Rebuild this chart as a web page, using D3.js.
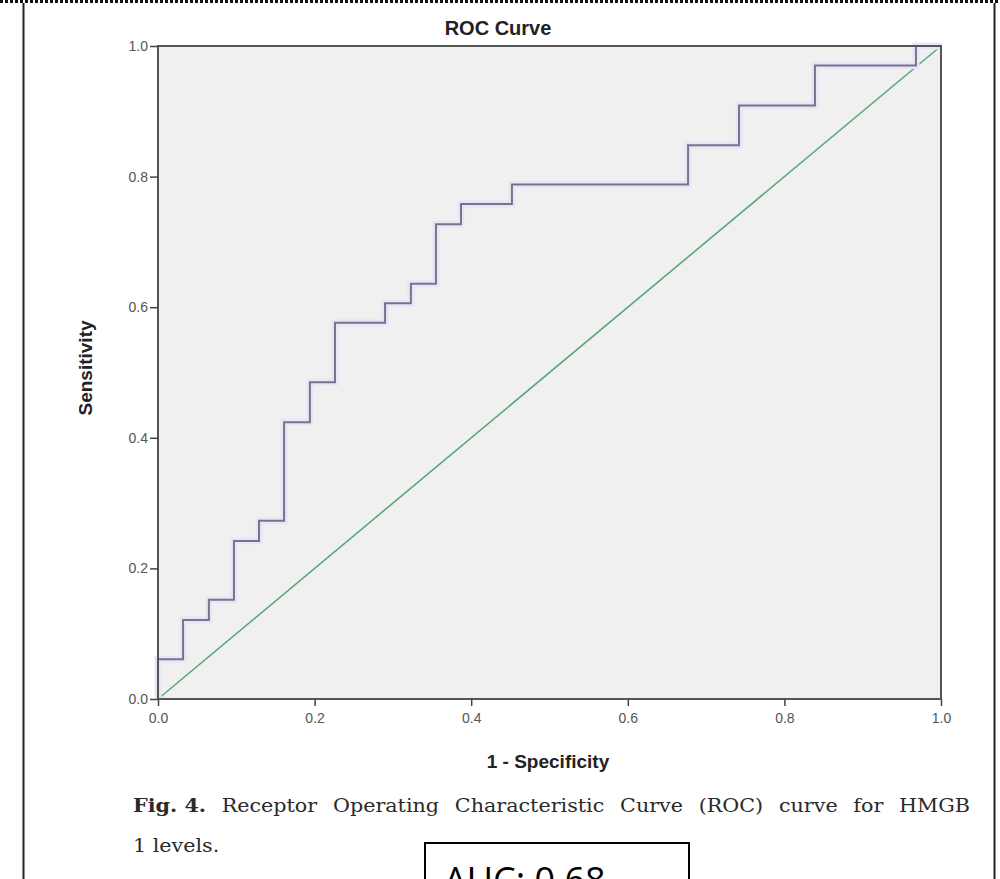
<!DOCTYPE html>
<html><head><meta charset="utf-8">
<script src="https://cdn.jsdelivr.net/npm/d3@7"></script>
<style>body{margin:0;background:#fff}svg{display:block}</style>
</head><body>
<svg id="c" width="1000" height="879"></svg>
<script>
// ROC step curve: 1 - specificity (x) and sensitivity (y)
const fpr = [0, 0, 0.032, 0.032, 0.065, 0.065, 0.097, 0.097, 0.129, 0.129, 0.161, 0.161, 0.194, 0.194, 0.226, 0.226, 0.290, 0.290, 0.323, 0.323, 0.355, 0.355, 0.387, 0.387, 0.452, 0.452, 0.677, 0.677, 0.742, 0.742, 0.839, 0.839, 0.968, 0.968, 1.0];
const tpr = [0, 0.061, 0.061, 0.121, 0.121, 0.152, 0.152, 0.242, 0.242, 0.273, 0.273, 0.424, 0.424, 0.485, 0.485, 0.576, 0.576, 0.606, 0.606, 0.636, 0.636, 0.727, 0.727, 0.758, 0.758, 0.788, 0.788, 0.848, 0.848, 0.909, 0.909, 0.970, 0.970, 1.0, 1.0];
const refLine = [0, 1];
const ticks = [0, 0.2, 0.4, 0.6, 0.8, 1.0];
const titleText = "ROC Curve";
const xLabel = "1 - Specificity";
const yLabel = "Sensitivity";
const captionBold = "Fig. 4.";
const captionLine1 = ["Receptor", "Operating", "Characteristic", "Curve", "(ROC)", "curve", "for", "HMGB"];
const captionLine2 = "1 levels.";
const aucText = "AUC: 0.68";

const svg = d3.select("#c");
const L = 158, R = 941, T = 46, B = 699;
const x = d3.scaleLinear().domain([0, 1]).range([L, R]);
const y = d3.scaleLinear().domain([0, 1]).range([B, T]);

// page borders
svg.append("line").attr("x1", 0).attr("x2", 1000).attr("y1", 1.5).attr("y2", 1.5)
  .attr("stroke", "#111").attr("stroke-width", 3).attr("stroke-dasharray", "3,2");
svg.append("line").attr("x1", 23.5).attr("x2", 23.5).attr("y1", 3).attr("y2", 879).attr("stroke", "#222").attr("stroke-width", 2);
svg.append("line").attr("x1", 994.5).attr("x2", 994.5).attr("y1", 3).attr("y2", 879).attr("stroke", "#222").attr("stroke-width", 2);

// plot background
svg.append("rect").attr("x", L).attr("y", T).attr("width", R - L).attr("height", B - T).attr("fill", "#f0f0f0");

// reference diagonal
svg.append("line").attr("x1", x(refLine[0])).attr("y1", y(refLine[0])).attr("x2", x(refLine[1])).attr("y2", y(refLine[1]))
  .attr("stroke", "#5aa878").attr("stroke-width", 1.6);

// ROC step curve (halo + line)
const pts = fpr.map((v, i) => [v, tpr[i]]);
const line = d3.line().x(d => x(d[0])).y(d => y(d[1]));
svg.append("path").attr("d", line(pts)).attr("fill", "none").attr("stroke", "#e6e6f5").attr("stroke-width", 7);
svg.append("path").attr("d", line(pts)).attr("fill", "none").attr("stroke", "#74748e").attr("stroke-width", 2);

// frame
svg.append("rect").attr("x", L).attr("y", T).attr("width", R - L).attr("height", B - T)
  .attr("fill", "none").attr("stroke", "#555").attr("stroke-width", 2);

// axes
const xAxis = svg.append("g").attr("transform", `translate(0,${B})`)
  .call(d3.axisBottom(x).tickValues(ticks).tickFormat(d3.format(".1f")).tickSize(7).tickPadding(7));
const yAxis = svg.append("g").attr("transform", `translate(${L},0)`)
  .call(d3.axisLeft(y).tickValues(ticks).tickFormat(d3.format(".1f")).tickSize(8).tickPadding(2));
[xAxis, yAxis].forEach(g => {
  g.select(".domain").remove();
  g.selectAll(".tick line").attr("stroke", "#444").attr("stroke-width", 1.5);
  g.selectAll(".tick text").attr("fill", "#555").attr("font-family", "Liberation Sans, Arial, sans-serif").attr("font-size", 14);
});

// title & labels
svg.append("text").attr("x", 498).attr("y", 35).attr("text-anchor", "middle")
  .attr("font-family", "Liberation Sans, Arial, sans-serif").attr("font-weight", "bold").attr("font-size", 20).attr("fill", "#222").text(titleText);
svg.append("text").attr("x", 548).attr("y", 768).attr("text-anchor", "middle")
  .attr("font-family", "Liberation Sans, Arial, sans-serif").attr("font-weight", "bold").attr("font-size", 19).attr("fill", "#222").text(xLabel);
svg.append("text").attr("transform", "translate(92,368) rotate(-90)").attr("text-anchor", "middle")
  .attr("font-family", "Liberation Sans, Arial, sans-serif").attr("font-weight", "bold").attr("font-size", 19).attr("fill", "#222").text(yLabel);

// caption, justified line 1 (glyphs widened horizontally)
const capFont = "DejaVu Serif, serif";
const stretch = 1.15;
const capL = 133, capR = 970, capY1 = 812, capY2 = 852;
const words = [captionBold].concat(captionLine1);
const wGroups = words.map((w, i) => {
  const g = svg.append("g");
  g.append("text").attr("x", 0).attr("y", 0)
    .attr("font-family", capFont).attr("font-size", 18).attr("fill", "#2a2a2a")
    .attr("font-weight", i === 0 ? "bold" : "normal").text(w);
  return g;
});
const widths = wGroups.map(g => g.select("text").node().getComputedTextLength() * stretch);
const gap = (capR - capL - d3.sum(widths)) / (words.length - 1);
let cx = capL;
wGroups.forEach((g, i) => { g.attr("transform", `translate(${cx},${capY1}) scale(${stretch},1)`); cx += widths[i] + gap; });
svg.append("g").attr("transform", `translate(${capL},${capY2}) scale(${stretch},1)`)
  .append("text").attr("x", 0).attr("y", 0)
  .attr("font-family", capFont).attr("font-size", 18).attr("fill", "#2a2a2a").text(captionLine2);

// AUC box
svg.append("rect").attr("x", 425).attr("y", 843).attr("width", 264).attr("height", 60)
  .attr("fill", "#fff").attr("stroke", "#000").attr("stroke-width", 2);
svg.append("text").attr("x", 444).attr("y", 893)
  .attr("font-family", "Open Sans, Liberation Sans, sans-serif").attr("font-size", 36).attr("fill", "#000").text(aucText);
</script>
</body></html>
